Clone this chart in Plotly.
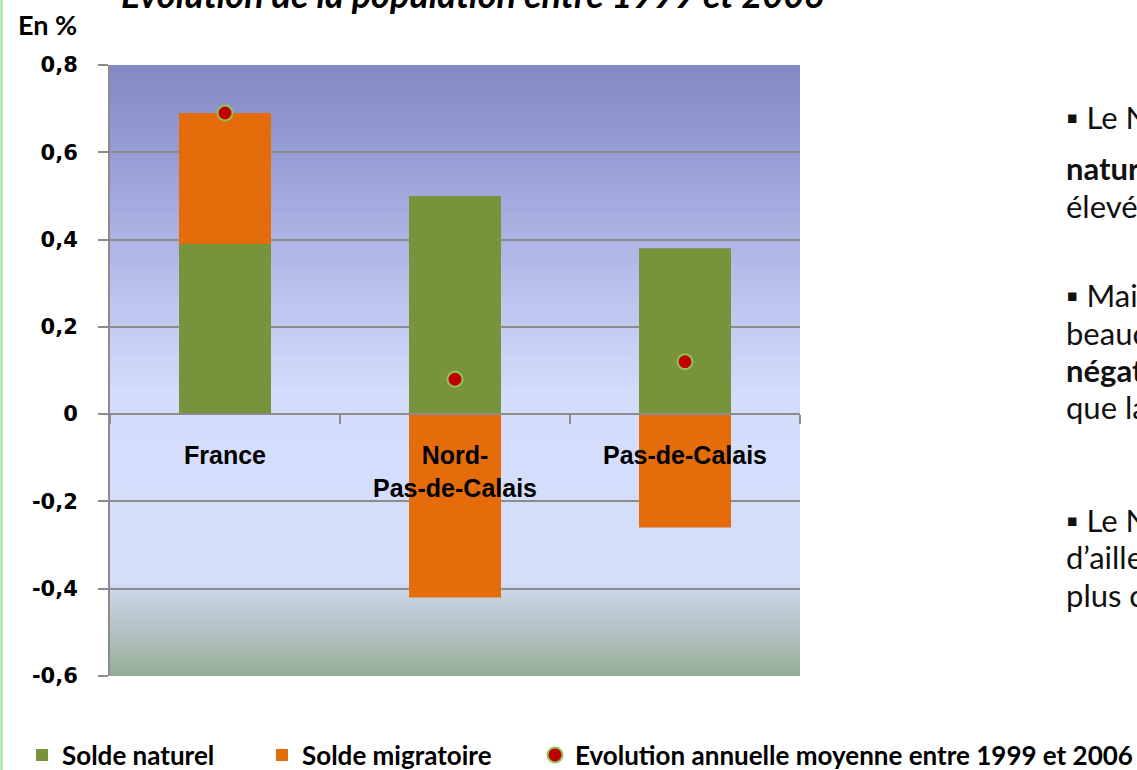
import plotly.graph_objects as go

# ---------------- data ----------------
categories = ["France", "Nord-Pas-de-Calais", "Pas-de-Calais"]
category_labels = ["France", "Nord-<br>Pas-de-Calais", "Pas-de-Calais"]
solde_naturel = [0.39, 0.50, 0.38]
solde_migratoire = [0.30, -0.42, -0.26]
evolution_annuelle = [0.69, 0.08, 0.12]
y_tick_values = [0.8, 0.6, 0.4, 0.2, 0.0, -0.2, -0.4, -0.6]
y_tick_labels = ["0,8", "0,6", "0,4", "0,2", "0", "-0,2", "-0,4", "-0,6"]
title_text = "Evolution de la population entre 1999 et 2006"
unit_text = "En %"
comment_lines = [
    "▪ Le Nord-Pas-de-Calais a un solde",
    "<b>naturel</b> plus",
    "élevé que la France",
    "▪ Mais il perd",
    "beaucoup d’habitants : solde",
    "<b>négatif</b> des migrations",
    "que la France",
    "▪ Le Nord-Pas-de-Calais",
    "d’ailleurs",
    "plus concerné",
]

# ---------------- layout geometry ----------------
W, H = 1137, 770
ML, MR, MT, MB = 110, 337, 65, 94
PW, PH = W - ML - MR, H - MT - MB
YMIN, YMAX = -0.6, 0.8


def px_x(px):
    return (px - ML) / PW


def px_y(py):
    return (H - MB - py) / PH


GREEN = "#77933C"
ORANGE = "#E46C0A"
RED = "#C00000"
GRID = "#8C8C8C"

fig = go.Figure()
fig.add_trace(go.Bar(
    x=categories, y=solde_naturel, name="Solde naturel",
    marker=dict(color=GREEN, line=dict(width=0)), width=0.4, legend="legend",
))
fig.add_trace(go.Bar(
    x=categories, y=solde_migratoire, name="Solde migratoire",
    marker=dict(color=ORANGE, line=dict(width=0)), width=0.4, legend="legend2",
))
fig.add_trace(go.Scatter(
    x=categories, y=evolution_annuelle, mode="markers",
    name="Evolution annuelle moyenne entre 1999 et 2006",
    marker=dict(color=RED, size=15, line=dict(color="#92C353", width=2)),
    legend="legend3",
))

# background gradient of the plotting area (vertical)
stops = [
    (0.80, (130, 136, 197)),
    (0.60, (150, 156, 212)),
    (0.40, (173, 180, 228)),
    (0.20, (196, 203, 242)),
    (0.05, (211, 220, 251)),
    (-0.385, (213, 222, 250)),
    (-0.42, (199, 209, 224)),
    (-0.48, (183, 197, 202)),
    (-0.54, (168, 186, 178)),
    (-0.60, (150, 172, 148)),
]


def grad_color(v):
    for (v0, c0), (v1, c1) in zip(stops[:-1], stops[1:]):
        if v1 <= v <= v0:
            t = (v0 - v) / (v0 - v1)
            return "rgb(%d,%d,%d)" % tuple(round(a + (b - a) * t) for a, b in zip(c0, c1))
    return "rgb(%d,%d,%d)" % stops[-1][1]


n_strips = 140
step = (YMAX - YMIN) / n_strips
shapes = []
for i in range(n_strips):
    y1 = YMAX - i * step
    y0 = y1 - step - 0.002
    shapes.append(dict(
        type="rect", xref="x domain", yref="y", x0=0, x1=1, y0=max(y0, YMIN), y1=y1,
        fillcolor=grad_color((y0 + y1) / 2), line=dict(width=0), layer="below",
    ))
# light green border on the far left
shapes.append(dict(
    type="line", xref="paper", yref="paper",
    x0=px_x(1.5), x1=px_x(1.5), y0=px_y(H), y1=px_y(0),
    line=dict(color="#8FE68F", width=2),
))
fig.update_layout(shapes=shapes)

annotations = [
    dict(text="<b><i>" + title_text + "</i></b>", xref="paper", yref="paper",
         x=px_x(119), y=px_y(-6.5), xanchor="left", yanchor="middle", showarrow=False,
         font=dict(family="Lato", size=36, color="#000000")),
    dict(text="<b>" + unit_text + "</b>", xref="paper", yref="paper",
         x=px_x(16), y=px_y(25), xanchor="left", yanchor="middle", showarrow=False,
         font=dict(family="Lato", size=27, color="#000000")),
]
line_y = [117, 168, 206, 295, 333, 370, 407, 520, 557, 595]
for txt, yy in zip(comment_lines, line_y):
    annotations.append(dict(
        text=txt, xref="paper", yref="paper", x=px_x(1064), y=px_y(yy),
        xanchor="left", yanchor="middle", showarrow=False, align="left",
        font=dict(family="Lato", size=31, color="#111111"),
    ))
fig.update_layout(annotations=annotations)

legend_font = dict(family="Lato", size=26, color="#000000", weight="bold")
leg_y = px_y(755)
common_leg = dict(orientation="h", yanchor="middle", y=leg_y, xanchor="left",
                  bgcolor="rgba(0,0,0,0)", borderwidth=0, font=legend_font,
                  itemclick=False, itemdoubleclick=False)

fig.update_layout(
    width=W, height=H,
    margin=dict(l=ML, r=MR, t=MT, b=MB, pad=0, autoexpand=False),
    paper_bgcolor="white",
    plot_bgcolor="rgba(0,0,0,0)",
    barmode="relative",
    bargap=0.6,
    showlegend=True,
    legend=dict(x=px_x(22), **common_leg),
    legend2=dict(x=px_x(262), **common_leg),
    legend3=dict(x=px_x(535), **common_leg),
    xaxis=dict(
        type="category", range=[-0.5, 2.5],
        tickvals=categories, ticktext=category_labels,
        anchor="free", position=(0 - YMIN) / (YMAX - YMIN),
        showline=True, linecolor=GRID, linewidth=2,
        ticks="outside", tickson="boundaries", ticklen=9, tickwidth=1.5, tickcolor=GRID,
        showgrid=False, zeroline=False,
        tickfont=dict(family="Liberation Sans", size=25, color="#000000", weight="bold"),
        ticklabelstandoff=19,
        fixedrange=True,
    ),
    yaxis=dict(
        range=[YMIN, YMAX], tickvals=y_tick_values, ticktext=y_tick_labels,
        showline=True, linecolor=GRID, linewidth=2,
        ticks="outside", ticklen=10, tickwidth=1.5, tickcolor=GRID,
        showgrid=True, gridcolor=GRID, gridwidth=1.5,
        zeroline=False,
        tickfont=dict(family="DejaVu Sans", size=21, color="#000000", weight="bold"),
        ticklabelstandoff=16,
        fixedrange=True,
    ),
)

fig.write_html(
    "out.html",
    config={"displayModeBar": False},
    post_script="document.body.style.margin='0';document.body.style.overflow='hidden';",
)
